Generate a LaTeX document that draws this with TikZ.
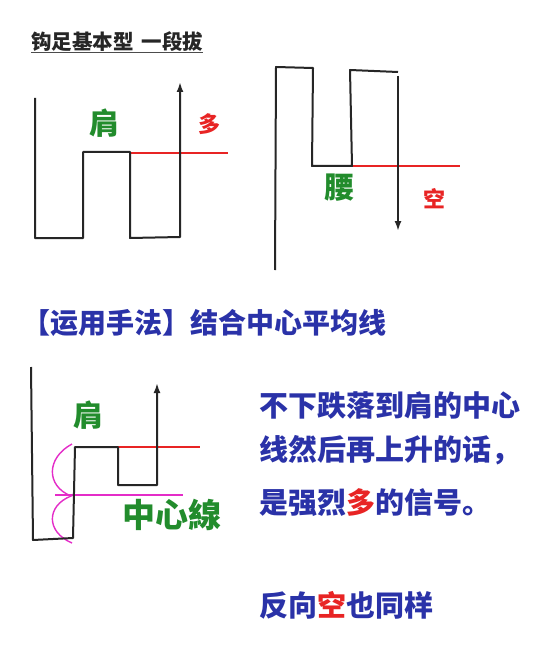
\documentclass[tikz,border=0pt]{standalone}
\usepackage{fontspec}
\newfontfamily\cjk{Noto Sans CJK SC}
\usetikzlibrary{arrows.meta,positioning}
\definecolor{sigblue}{RGB}{42,50,168}
\definecolor{shgreen}{RGB}{34,140,44}
\definecolor{sigred}{RGB}{232,36,36}
\definecolor{cmag}{RGB}{228,44,200}

\begin{document}
\begin{tikzpicture}[
  x=1pt, y=-1pt,
  >={Latex[length=10pt,width=7pt]},
  every node/.style={inner sep=0pt, font=\cjk},
  price/.style={draw=black!85, line width=2pt, line join=round},
  level/.style={draw=sigred, line width=1.6pt},
  mid/.style={draw=cmag, line width=1.4pt},
  tag/.style={text=shgreen, font=\cjk\bfseries\fontsize{30}{30}\selectfont},
  side/.style={text=sigred, font=\cjk\bfseries\fontsize{22}{22}\selectfont},
  say/.style={anchor=west, text=sigblue, font=\cjk\bfseries\fontsize{29}{29}\selectfont}
]
\useasboundingbox[fill=white] (0,0) rectangle (551,663);

% Titre
\node[anchor=west, text=black!85, font=\cjk\bfseries\fontsize{20.5}{20.5}\selectfont] (title) at (31,42) {钩足基本型\hspace{8pt}一段拔};
\draw[black!70, line width=1pt] (title.south west) -- (title.south east);

% Haut gauche : rebond au-dessus de l'epaule
\draw[level] (130,153) -- (228,153);
\draw[price, ->] (35,98) -- (35,238) -- (83,238) -- (83,152) -- (130,152) -- (130,238) -- (180,237) -- (180,82);
\node[tag] (kata1) at (104,123) {肩};
\node[side] (long1) at (209,124) {多};

% Haut droite : cassure sous la taille
\draw[level] (352,166) -- (460,166);
\draw[price] (275,270) -- (276,67) -- (313,68) -- (312,166) -- (352,166) -- (350,70) -- (398,72);
\draw[price, ->] (398,76) -- (398,231);
\node[tag] (koshi) at (339,188) {腰};
\node[side] (short1) at (434,199) {空};

% Methode
\node[say, font=\cjk\bfseries\fontsize{28}{28}\selectfont] (method) at (22,323) {【运用手法】结合中心平均线};

% Bas gauche : ligne centrale de l'epaule
\draw[level] (107,447) -- (200,447);
\draw[mid] (55,495) -- (183,495);
\draw[mid] (72,444) .. controls (46,458) and (46,486) .. (71,496) .. controls (46,506) and (46,532) .. (72,543);
\draw[price, ->] (31,367) -- (33,540) -- (73,538) -- (75,447) -- (118,447) -- (118,485) -- (157,485) -- (157,383);
\node[tag] (kata2) at (88,415) {肩};
\node[tag, font=\cjk\bfseries\fontsize{33}{33}\selectfont] (center) at (172,515) {中心線};

% Texte a droite
\node[say] (line1) at (259,405) {不下跌落到肩的中心};
\node[say] (line2) at (259,450) {线然后再上升的话，};
\node[say] (line3) at (259,503) {是强烈\textcolor{sigred}{多}的信号。};
\node[say] (line4) at (259,605) {反向\textcolor{sigred}{空}也同样};

\end{tikzpicture}
\end{document}
